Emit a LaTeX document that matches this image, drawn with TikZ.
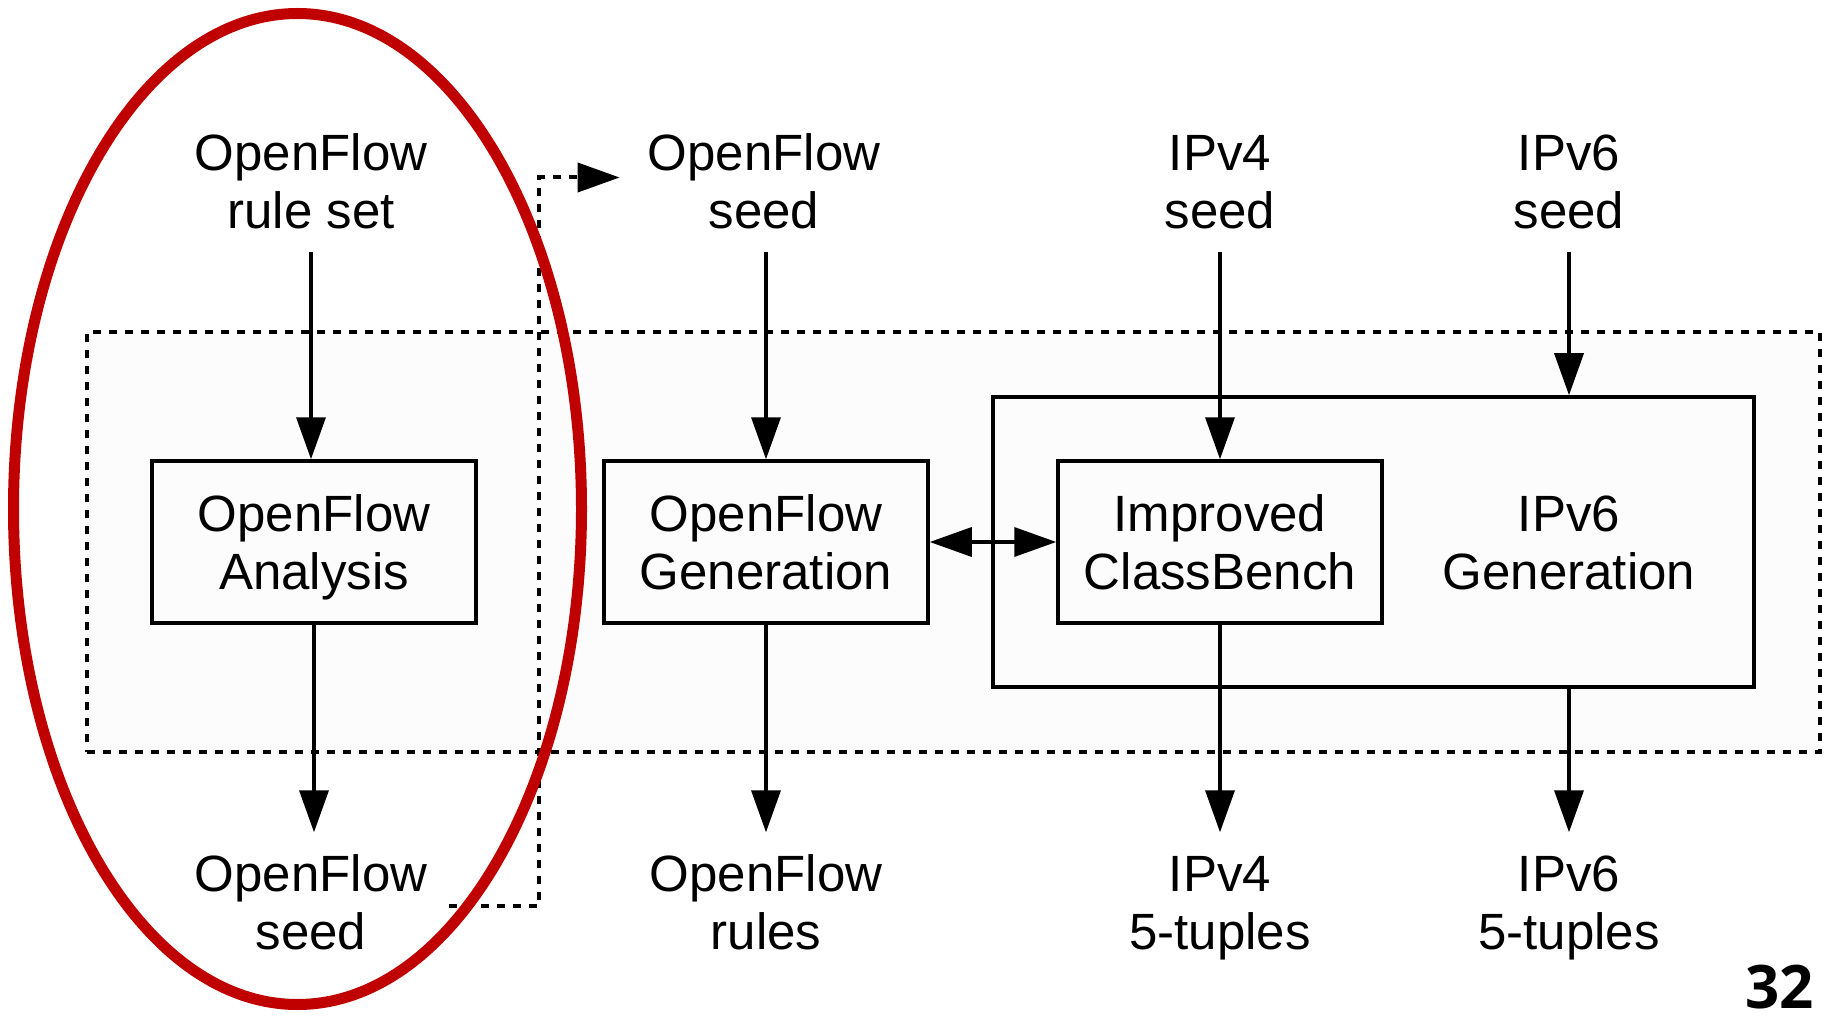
\documentclass[tikz,border=0pt]{standalone}
\usepackage{fontspec}
\setmainfont{Liberation Sans}
\newfontfamily\numfont{Open Sans}
\usetikzlibrary{arrows.meta}
\definecolor{ovalred}{RGB}{192,0,0}
\newcommand\ls{\rule[-11pt]{0pt}{58pt}}
\tikzset{
  txt/.style={align=center, font=\fontsize{51}{58}\selectfont},
  lbl/.style={txt, inner xsep=22pt, inner ysep=12pt},
  box/.style={txt, draw, line width=3.5pt, minimum width=324pt, minimum height=162pt, inner sep=0pt},
  arr/.style={line width=3.5pt, -{Triangle[length=42pt,width=29pt]}},
  darr/.style={line width=3.5pt, {Triangle[length=42pt,width=29pt]}-{Triangle[length=42pt,width=29pt]}},
  dotted box/.style={draw, line width=3.5pt, dash pattern=on 8pt off 8pt},
  fb/.style={line width=4pt, dash pattern=on 8pt off 8pt, -{Triangle[length=42pt,width=29pt]}}
}
\begin{document}
\begin{tikzpicture}[x=1pt,y=-1pt]
\useasboundingbox (0,0) rectangle (1829,1016);
% outer dotted box
\node[dotted box, fill=black!1, minimum width=1733pt, minimum height=420pt, inner sep=0pt] (outer) at (953.5,542) {};
% container
\node[draw, line width=3.5pt, minimum width=761pt, minimum height=290pt, inner sep=0pt] (cont) at (1373.5,542) {};
\node[txt] (ipv6gen) at (1569,542) {\ls IPv6\\\ls Generation};
% boxes
\node[box] (ana) at (314,542) {\ls OpenFlow\\\ls Analysis};
\node[box] (gen) at (766,542) {\ls OpenFlow\\\ls Generation};
\node[box] (cb) at (1220,542) {\ls Improved\\\ls ClassBench};
% top labels
\node[lbl] (rs) at (311,181.5) {\ls OpenFlow\\\ls rule set};
\node[lbl] (seedin) at (764,181.5) {\ls OpenFlow\\\ls seed};
\node[lbl] (v4seed) at (1220,181.5) {\ls IPv4\\\ls seed};
\node[lbl] (v6seed) at (1569,181.5) {\ls IPv6\\\ls seed};
% bottom labels
\node[lbl] (seedout) at (311,902.5) {\ls OpenFlow\\\ls seed};
\node[lbl] (rules) at (766,902.5) {\ls OpenFlow\\\ls rules};
\node[lbl] (v4t) at (1220,902.5) {\ls IPv4\\\ls 5-tuples};
\node[lbl] (v6t) at (1569,902.5) {\ls IPv6\\\ls 5-tuples};
% arrows
\draw[arr] (rs.south) -- (rs.south |- ana.north);
\draw[arr] (seedin.south -| gen.north) -- (gen.north);
\draw[arr] (v4seed.south) -- (cb.north);
\draw[arr] (v6seed.south) -- (v6seed.south |- cont.north);
\draw[arr] (ana.south) -- (ana.south |- seedout.north);
\draw[arr] (gen.south) -- (rules.north);
\draw[arr] (cb.south) -- (v4t.north);
\draw[arr] (v6t.north |- cont.south) -- (v6t.north);
\draw[darr] (gen.east) -- (cb.west);
% feedback dashed
\coordinate (fbx) at (539,0);
\draw[fb, shorten >=6pt] ([yshift=-3.5pt]seedout.east) -| ([yshift=4pt]fbx |- seedin.west) -- ([yshift=4pt]seedin.west);
% page number
\node[font=\numfont\bfseries\fontsize{60}{62}\selectfont, anchor=east, inner sep=0pt] (pg) at (1814,987) {32};
% red ellipse
\draw[ovalred, line width=11pt] (297.5,509) ellipse [x radius=284, y radius=495.5];
\end{tikzpicture}
\end{document}
